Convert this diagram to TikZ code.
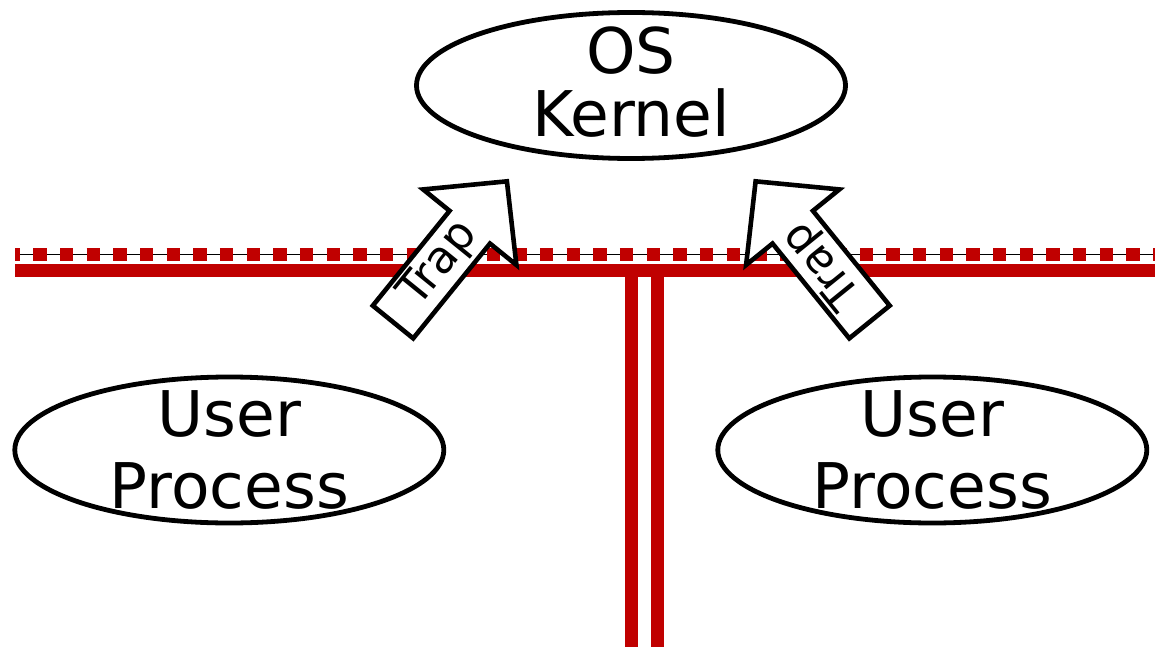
\documentclass[tikz,border=0pt]{standalone}
\usepackage{fontspec}
\setmainfont{DejaVu Sans}
\usetikzlibrary{shapes.geometric}
\definecolor{barred}{RGB}{192,0,0}
\tikzset{
  blob/.style={ellipse, draw=black, line width=4.8pt, fill=white,
    minimum width=429pt, minimum height=146pt, inner sep=0pt},
  bigtext/.style={align=center, inner sep=0pt},
  kerneltext/.style={bigtext, font=\fontsize{63}{63}\selectfont},
  usertext/.style={bigtext, font=\fontsize{63}{72}\selectfont},
  trapbody/.style={draw=black, line width=4.6pt, fill=white, line join=miter},
  traptext/.style={font=\fontsize{45}{50}\selectfont, inner sep=0pt, transform shape},
  boundary/.style={barred, line width=13.3pt},
  dashedbound/.style={barred, line width=13.5pt, dash pattern=on 13.33pt off 13.33pt, dash phase=8.3pt},
  stem/.style={barred, line width=12.7pt}
}
\begin{document}
\begin{tikzpicture}[x=1pt,y=-1pt]
\useasboundingbox (0,0) rectangle (1155,647);

% mode boundary: thin rule with red squares, solid bar, and the vertical pair
\coordinate (dl) at (15,254.3);
\coordinate (dr) at (1155,254.3);
\coordinate (bl) at (15,270.7);
\coordinate (br) at (1155,270.7);
\coordinate (s1top) at (631.3,270.7);
\coordinate (s1bot) at (631.3,647);
\coordinate (s2top) at (657.7,270.7);
\coordinate (s2bot) at (657.7,647);
\draw[line width=1.3pt] (dl) -- (dr);
\draw[dashedbound] (dl) -- (dr);
\draw[boundary] (bl) -- (br);
\draw[stem] (s1top) -- (s1bot);
\draw[stem] (s2top) -- (s2bot);

% kernel and user processes
\node[blob] (kernel) at (631,85.5) {};
\node[kerneltext] (kernelText) at (631,82) {OS\\Kernel};
\node[blob] (userL) at (229.3,450) {};
\node[usertext] (userLText) at (229.3,449.5) {User\\Process};
\node[blob] (userR) at (932.3,450) {};
\node[usertext] (userRText) at (932.3,449.5) {User\\Process};

% trap arrows crossing the boundary
\begin{scope}[shift={(393,322)}, rotate=51]
  \draw[trapbody] (0,26) -- (122,26) -- (122,60) -- (181,0) -- (122,-60) -- (122,-26) -- (0,-26) -- cycle;
  \node[traptext] (trapL) at (74,0) {Trap};
\end{scope}
\begin{scope}[shift={(869.5,322)}, xscale=-1, rotate=51]
  \draw[trapbody] (0,26) -- (122,26) -- (122,60) -- (181,0) -- (122,-60) -- (122,-26) -- (0,-26) -- cycle;
  \node[traptext, yscale=-1] (trapR) at (74,0) {Trap};
\end{scope}
\end{tikzpicture}
\end{document}
